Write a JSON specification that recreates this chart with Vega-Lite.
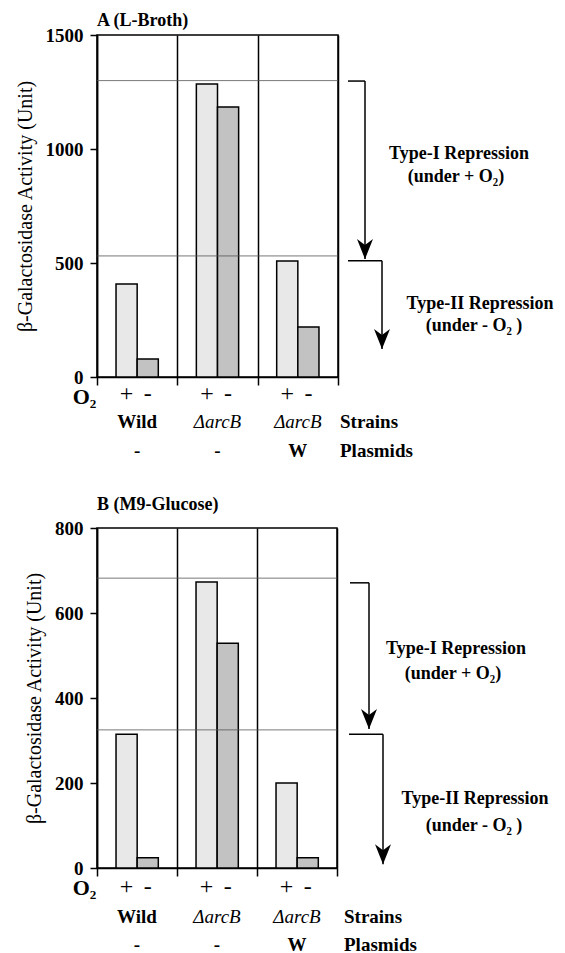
{
  "$schema": "https://vega.github.io/schema/vega-lite/v6.json",
  "padding": {"top": 11, "left": 14, "right": 0, "bottom": 0},
  "background": "white",
  "config": {
    "font": "Liberation Serif",
    "view": {"stroke": "black", "strokeWidth": 1.5},
    "text": {"font": "Liberation Serif", "color": "black"},
    "axis": {"labelFont": "Liberation Serif", "titleFont": "Liberation Serif", "labelColor": "black", "titleColor": "black", "domainColor": "black", "tickColor": "black"}
  },
  "datasets": {
    "barsA": [
      {"group": "Wild", "o2": "+", "activity": 408},
      {"group": "Wild", "o2": "-", "activity": 79},
      {"group": "ΔarcB", "o2": "+", "activity": 1285},
      {"group": "ΔarcB", "o2": "-", "activity": 1184},
      {"group": "ΔarcB/W", "o2": "+", "activity": 509},
      {"group": "ΔarcB/W", "o2": "-", "activity": 219}
    ],
    "barsB": [
      {"group": "Wild", "o2": "+", "activity": 315},
      {"group": "Wild", "o2": "-", "activity": 24},
      {"group": "ΔarcB", "o2": "+", "activity": 673},
      {"group": "ΔarcB", "o2": "-", "activity": 529},
      {"group": "ΔarcB/W", "o2": "+", "activity": 200},
      {"group": "ΔarcB/W", "o2": "-", "activity": 24}
    ],
    "groups": [
      {"group": "Wild", "strain": "Wild", "plasmid": "-"},
      {"group": "ΔarcB", "strain": "ΔarcB", "plasmid": "-"},
      {"group": "ΔarcB/W", "strain": "ΔarcB", "plasmid": "W"}
    ],
    "levelsA": [{"level": 1300}, {"level": 531}],
    "levelsB": [{"level": 682}, {"level": 325}],
    "arrowsA": [
      {"start": 10, "corner": 27, "from": 1298, "tip": 517},
      {"start": 10, "corner": 44, "from": 510, "tip": 123}
    ],
    "arrowsB": [
      {"start": 13, "corner": 32, "from": 671, "tip": 327},
      {"start": 12, "corner": 46, "from": 315, "tip": 9}
    ],
    "notesA": [
      {"text": "Type-I Repression", "at": 121, "level": 978},
      {"text": "(under  + O₂)", "at": 118, "level": 877},
      {"text": "Type-II Repression", "at": 142, "level": 320},
      {"text": "(under  - O₂ )", "at": 136, "level": 224}
    ],
    "notesB": [
      {"text": "Type-I Repression", "at": 119, "level": 515},
      {"text": "(under  + O₂)", "at": 116, "level": 456},
      {"text": "Type-II Repression", "at": 138, "level": 162},
      {"text": "(under  - O₂ )", "at": 137, "level": 99}
    ],
    "rowsA": [{"text": "Strains", "level": -197}, {"text": "Plasmids", "level": -325}],
    "rowsB": [{"text": "Strains", "level": -115}, {"text": "Plasmids", "level": -180}]
  },
  "spacing": 33,
  "vconcat": [
    {
      "hconcat": [
        {
          "width": 241, "height": 342,
          "title": {"text": "A (L-Broth)", "anchor": "start", "frame": "group", "fontSize": 18, "fontWeight": "bold", "font": "Liberation Serif", "color": "black", "offset": -4},
          "layer": [
            {
              "data": {"name": "barsA"},
              "mark": {"type": "bar", "stroke": "black", "strokeWidth": 1.5},
              "encoding": {
                "x": {"field": "group", "type": "nominal", "title": "O₂",
                  "scale": {"domain": ["Wild", "ΔarcB", "ΔarcB/W"], "paddingInner": 0, "paddingOuter": 0},
                  "axis": {"labels": false, "tickBand": "extent", "grid": true, "gridColor": "black", "gridWidth": 1.5, "gridOpacity": 1, "domainWidth": 1.5, "tickWidth": 1.5, "tickSize": 8, "titleFontSize": 22, "titleFontWeight": "bold", "titleX": -13, "titleY": 19, "titleAlign": "center", "titleBaseline": "middle"}},
                "xOffset": {"field": "o2", "type": "nominal", "scale": {"domain": ["+", "-"], "paddingInner": 0, "paddingOuter": 0.9}},
                "y": {"field": "activity", "type": "quantitative", "title": "β-Galactosidase Activity (Unit)",
                  "scale": {"domain": [0, 1500]},
                  "axis": {"values": [0, 500, 1000, 1500], "format": "d", "grid": false, "domainWidth": 1.5, "tickWidth": 1.5, "tickSize": 7, "labelFontSize": 19, "labelFontWeight": "bold", "labelPadding": 7, "titleFontSize": 20, "titleFontWeight": "normal", "titlePadding": 10}},
                "fill": {"field": "o2", "type": "nominal", "scale": {"domain": ["+", "-"], "range": ["#e8e8e8", "#c2c2c2"]}, "legend": null}
              }
            },
            {
              "data": {"name": "levelsA"},
              "mark": {"type": "rule", "color": "#555555", "strokeWidth": 0.8},
              "encoding": {"y": {"field": "level", "type": "quantitative", "title": "β-Galactosidase Activity (Unit)", "scale": {"domain": [0, 1500]}}}
            },
            {
              "data": {"name": "barsA"},
              "mark": {"type": "text", "fontSize": 24, "baseline": "middle"},
              "encoding": {
                "x": {"field": "group", "type": "nominal", "title": "O₂", "scale": {"domain": ["Wild", "ΔarcB", "ΔarcB/W"], "paddingInner": 0, "paddingOuter": 0}},
                "xOffset": {"field": "o2", "type": "nominal", "scale": {"domain": ["+", "-"], "paddingInner": 0, "paddingOuter": 0.9}},
                "y": {"datum": -75, "type": "quantitative", "title": "β-Galactosidase Activity (Unit)", "scale": {"domain": [0, 1500]}},
                "text": {"field": "o2"}
              }
            },
            {
              "data": {"name": "groups"},
              "transform": [{"filter": "datum.strain == 'Wild'"}],
              "mark": {"type": "text", "fontSize": 19, "fontWeight": "bold", "baseline": "middle"},
              "encoding": {
                "x": {"field": "group", "type": "nominal", "title": "O₂", "scale": {"domain": ["Wild", "ΔarcB", "ΔarcB/W"], "paddingInner": 0, "paddingOuter": 0}},
                "y": {"datum": -197, "type": "quantitative", "title": "β-Galactosidase Activity (Unit)", "scale": {"domain": [0, 1500]}},
                "text": {"field": "strain"}
              }
            },
            {
              "data": {"name": "groups"},
              "transform": [{"filter": "datum.strain != 'Wild'"}],
              "mark": {"type": "text", "fontSize": 19, "fontStyle": "italic", "baseline": "middle"},
              "encoding": {
                "x": {"field": "group", "type": "nominal", "title": "O₂", "scale": {"domain": ["Wild", "ΔarcB", "ΔarcB/W"], "paddingInner": 0, "paddingOuter": 0}},
                "y": {"datum": -197, "type": "quantitative", "title": "β-Galactosidase Activity (Unit)", "scale": {"domain": [0, 1500]}},
                "text": {"field": "strain"}
              }
            },
            {
              "data": {"name": "groups"},
              "mark": {"type": "text", "fontSize": 19, "fontWeight": "bold", "baseline": "middle"},
              "encoding": {
                "x": {"field": "group", "type": "nominal", "title": "O₂", "scale": {"domain": ["Wild", "ΔarcB", "ΔarcB/W"], "paddingInner": 0, "paddingOuter": 0}},
                "y": {"datum": -325, "type": "quantitative", "title": "β-Galactosidase Activity (Unit)", "scale": {"domain": [0, 1500]}},
                "text": {"field": "plasmid"}
              }
            }
          ]
        },
        {
          "width": 227, "height": 342,
          "view": {"stroke": null},
          "layer": [
            {
              "data": {"name": "arrowsA"},
              "mark": {"type": "rule", "color": "black", "strokeWidth": 1.5},
              "encoding": {
                "x": {"field": "start", "type": "quantitative", "scale": {"domain": [0, 227]}, "axis": null},
                "x2": {"field": "corner"},
                "y": {"field": "from", "type": "quantitative", "scale": {"domain": [0, 1500]}, "axis": null}
              }
            },
            {
              "data": {"name": "arrowsA"},
              "mark": {"type": "rule", "color": "black", "strokeWidth": 1.5},
              "encoding": {
                "x": {"field": "corner", "type": "quantitative", "scale": {"domain": [0, 227]}, "axis": null},
                "y": {"field": "from", "type": "quantitative", "scale": {"domain": [0, 1500]}, "axis": null},
                "y2": {"field": "tip"}
              }
            },
            {
              "data": {"name": "arrowsA"},
              "mark": {"type": "point", "shape": "M-0.8,-2L0,0L0.8,-2L0,-1.4Z", "size": 400, "filled": true, "color": "black", "opacity": 1, "strokeWidth": 0},
              "encoding": {
                "x": {"field": "corner", "type": "quantitative", "scale": {"domain": [0, 227]}, "axis": null},
                "y": {"field": "tip", "type": "quantitative", "scale": {"domain": [0, 1500]}, "axis": null}
              }
            },
            {
              "data": {"name": "notesA"},
              "mark": {"type": "text", "fontSize": 18, "fontWeight": "bold", "align": "center", "baseline": "middle"},
              "encoding": {
                "x": {"field": "at", "type": "quantitative", "scale": {"domain": [0, 227]}, "axis": null},
                "y": {"field": "level", "type": "quantitative", "scale": {"domain": [0, 1500]}, "axis": null},
                "text": {"field": "text"}
              }
            },
            {
              "data": {"name": "rowsA"},
              "mark": {"type": "text", "fontSize": 19, "fontWeight": "bold", "align": "left", "baseline": "middle"},
              "encoding": {
                "x": {"datum": 2, "type": "quantitative", "scale": {"domain": [0, 227]}, "axis": null},
                "y": {"field": "level", "type": "quantitative", "scale": {"domain": [0, 1500]}, "axis": null},
                "text": {"field": "text"}
              }
            }
          ]
        }
      ],
      "spacing": 0,
      "bounds": "flush",
      "resolve": {"scale": {"x": "independent", "y": "independent"}}
    },
    {
      "hconcat": [
        {
          "width": 240, "height": 340,
          "title": {"text": "B (M9-Glucose)", "anchor": "start", "frame": "group", "fontSize": 18, "fontWeight": "bold", "font": "Liberation Serif", "color": "black", "offset": 5},
          "layer": [
            {
              "data": {"name": "barsB"},
              "mark": {"type": "bar", "stroke": "black", "strokeWidth": 1.5},
              "encoding": {
                "x": {"field": "group", "type": "nominal", "title": "O₂",
                  "scale": {"domain": ["Wild", "ΔarcB", "ΔarcB/W"], "paddingInner": 0, "paddingOuter": 0},
                  "axis": {"labels": false, "tickBand": "extent", "grid": true, "gridColor": "black", "gridWidth": 1.5, "gridOpacity": 1, "domainWidth": 1.5, "tickWidth": 1.5, "tickSize": 8, "titleFontSize": 22, "titleFontWeight": "bold", "titleX": -13, "titleY": 19, "titleAlign": "center", "titleBaseline": "middle"}},
                "xOffset": {"field": "o2", "type": "nominal", "scale": {"domain": ["+", "-"], "paddingInner": 0, "paddingOuter": 0.9}},
                "y": {"field": "activity", "type": "quantitative", "title": "β-Galactosidase Activity (Unit)",
                  "scale": {"domain": [0, 800]},
                  "axis": {"values": [0, 200, 400, 600, 800], "format": "d", "grid": false, "domainWidth": 1.5, "tickWidth": 1.5, "tickSize": 7, "labelFontSize": 19, "labelFontWeight": "bold", "labelPadding": 7, "titleFontSize": 20, "titleFontWeight": "normal", "titlePadding": 10}},
                "fill": {"field": "o2", "type": "nominal", "scale": {"domain": ["+", "-"], "range": ["#e8e8e8", "#c2c2c2"]}, "legend": null}
              }
            },
            {
              "data": {"name": "levelsB"},
              "mark": {"type": "rule", "color": "#555555", "strokeWidth": 0.8},
              "encoding": {"y": {"field": "level", "type": "quantitative", "title": "β-Galactosidase Activity (Unit)", "scale": {"domain": [0, 800]}}}
            },
            {
              "data": {"name": "barsB"},
              "mark": {"type": "text", "fontSize": 24, "baseline": "middle"},
              "encoding": {
                "x": {"field": "group", "type": "nominal", "title": "O₂", "scale": {"domain": ["Wild", "ΔarcB", "ΔarcB/W"], "paddingInner": 0, "paddingOuter": 0}},
                "xOffset": {"field": "o2", "type": "nominal", "scale": {"domain": ["+", "-"], "paddingInner": 0, "paddingOuter": 0.9}},
                "y": {"datum": -45, "type": "quantitative", "title": "β-Galactosidase Activity (Unit)", "scale": {"domain": [0, 800]}},
                "text": {"field": "o2"}
              }
            },
            {
              "data": {"name": "groups"},
              "transform": [{"filter": "datum.strain == 'Wild'"}],
              "mark": {"type": "text", "fontSize": 19, "fontWeight": "bold", "baseline": "middle"},
              "encoding": {
                "x": {"field": "group", "type": "nominal", "title": "O₂", "scale": {"domain": ["Wild", "ΔarcB", "ΔarcB/W"], "paddingInner": 0, "paddingOuter": 0}},
                "y": {"datum": -115, "type": "quantitative", "title": "β-Galactosidase Activity (Unit)", "scale": {"domain": [0, 800]}},
                "text": {"field": "strain"}
              }
            },
            {
              "data": {"name": "groups"},
              "transform": [{"filter": "datum.strain != 'Wild'"}],
              "mark": {"type": "text", "fontSize": 19, "fontStyle": "italic", "baseline": "middle"},
              "encoding": {
                "x": {"field": "group", "type": "nominal", "title": "O₂", "scale": {"domain": ["Wild", "ΔarcB", "ΔarcB/W"], "paddingInner": 0, "paddingOuter": 0}},
                "y": {"datum": -115, "type": "quantitative", "title": "β-Galactosidase Activity (Unit)", "scale": {"domain": [0, 800]}},
                "text": {"field": "strain"}
              }
            },
            {
              "data": {"name": "groups"},
              "mark": {"type": "text", "fontSize": 19, "fontWeight": "bold", "baseline": "middle"},
              "encoding": {
                "x": {"field": "group", "type": "nominal", "title": "O₂", "scale": {"domain": ["Wild", "ΔarcB", "ΔarcB/W"], "paddingInner": 0, "paddingOuter": 0}},
                "y": {"datum": -180, "type": "quantitative", "title": "β-Galactosidase Activity (Unit)", "scale": {"domain": [0, 800]}},
                "text": {"field": "plasmid"}
              }
            }
          ]
        },
        {
          "width": 232, "height": 340,
          "view": {"stroke": null},
          "layer": [
            {
              "data": {"name": "arrowsB"},
              "mark": {"type": "rule", "color": "black", "strokeWidth": 1.5},
              "encoding": {
                "x": {"field": "start", "type": "quantitative", "scale": {"domain": [0, 232]}, "axis": null},
                "x2": {"field": "corner"},
                "y": {"field": "from", "type": "quantitative", "scale": {"domain": [0, 800]}, "axis": null}
              }
            },
            {
              "data": {"name": "arrowsB"},
              "mark": {"type": "rule", "color": "black", "strokeWidth": 1.5},
              "encoding": {
                "x": {"field": "corner", "type": "quantitative", "scale": {"domain": [0, 232]}, "axis": null},
                "y": {"field": "from", "type": "quantitative", "scale": {"domain": [0, 800]}, "axis": null},
                "y2": {"field": "tip"}
              }
            },
            {
              "data": {"name": "arrowsB"},
              "mark": {"type": "point", "shape": "M-0.8,-2L0,0L0.8,-2L0,-1.4Z", "size": 400, "filled": true, "color": "black", "opacity": 1, "strokeWidth": 0},
              "encoding": {
                "x": {"field": "corner", "type": "quantitative", "scale": {"domain": [0, 232]}, "axis": null},
                "y": {"field": "tip", "type": "quantitative", "scale": {"domain": [0, 800]}, "axis": null}
              }
            },
            {
              "data": {"name": "notesB"},
              "mark": {"type": "text", "fontSize": 18, "fontWeight": "bold", "align": "center", "baseline": "middle"},
              "encoding": {
                "x": {"field": "at", "type": "quantitative", "scale": {"domain": [0, 232]}, "axis": null},
                "y": {"field": "level", "type": "quantitative", "scale": {"domain": [0, 800]}, "axis": null},
                "text": {"field": "text"}
              }
            },
            {
              "data": {"name": "rowsB"},
              "mark": {"type": "text", "fontSize": 19, "fontWeight": "bold", "align": "left", "baseline": "middle"},
              "encoding": {
                "x": {"datum": 7, "type": "quantitative", "scale": {"domain": [0, 232]}, "axis": null},
                "y": {"field": "level", "type": "quantitative", "scale": {"domain": [0, 800]}, "axis": null},
                "text": {"field": "text"}
              }
            }
          ]
        }
      ],
      "spacing": 0,
      "bounds": "flush",
      "resolve": {"scale": {"x": "independent", "y": "independent"}}
    }
  ]
}
